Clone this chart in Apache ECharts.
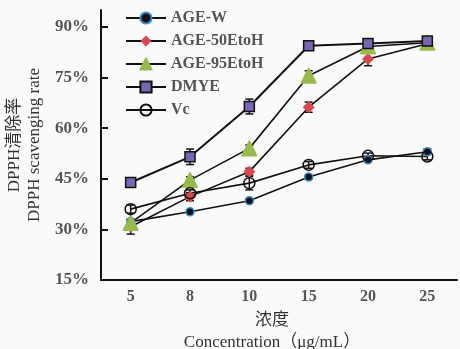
<!DOCTYPE html>
<html>
<head>
<meta charset="utf-8">
<script src="https://cdn.jsdelivr.net/npm/echarts@6/dist/echarts.min.js"></script>
<style>
  html, body { margin: 0; padding: 0; background: #fafafa; }
  #chart { width: 460px; height: 349px; }
</style>
</head>
<body>
<div id="chart"></div>
<script>
// Concentrations (μg/mL)
const categories = ['5', '8', '10', '15', '20', '25'];

// DPPH scavenging rate (%) for each extract
const ageW  = [32.3, 35.2, 38.5, 45.5, 50.6, 53.0];
const age50 = [30.8, 39.7, 47.1, 66.2, 80.5, 85.0];
const age95 = [31.9, 44.6, 54.0, 75.5, 84.2, 85.3];
const dmye  = [43.9, 51.5, 66.4, 84.4, 85.1, 85.8];
const vc    = [36.0, 40.7, 43.7, 49.1, 51.8, 51.6];

// Standard deviations (%)
const ageWErr  = [0.4, 0.5, 0.5, 0.5, 0.5, 0.8];
const age50Err = [2.2, 1.2, 1.0, 1.5, 2.0, 0.5];
const age95Err = [1.0, 1.0, 1.0, 1.5, 1.5, 0.5];
const dmyeErr  = [0.5, 2.3, 2.2, 0.8, 1.0, 0.5];
const vcErr    = [1.2, 1.0, 2.0, 1.0, 0.8, 1.0];

// Y axis tick values
const yTicks = [15, 30, 45, 60, 75, 90];

const serif = '"Liberation Serif", "Times New Roman", "Noto Sans CJK SC", serif';

function errorSeries(values, errs) {
  return {
    type: 'custom',
    silent: true,
    z: 1,
    data: values.map((v, i) => [i, v - errs[i], v + errs[i]]),
    renderItem: function (params, api) {
      const lo = api.coord([api.value(0), api.value(1)]);
      const hi = api.coord([api.value(0), api.value(2)]);
      const hw = 4;
      const style = { stroke: '#111', lineWidth: 1.5 };
      return {
        type: 'group',
        children: [
          { type: 'line', shape: { x1: lo[0], y1: lo[1], x2: hi[0], y2: hi[1] }, style: style },
          { type: 'line', shape: { x1: lo[0] - hw, y1: lo[1], x2: lo[0] + hw, y2: lo[1] }, style: style },
          { type: 'line', shape: { x1: hi[0] - hw, y1: hi[1], x2: hi[0] + hw, y2: hi[1] }, style: style }
        ]
      };
    }
  };
}

function lineSeries(name, values, symbol, size, itemStyle, width) {
  return {
    name: name,
    type: 'line',
    z: 3,
    data: values,
    symbol: symbol,
    symbolSize: size,
    showAllSymbol: true,
    lineStyle: { color: '#111', width: width || 1.6 },
    itemStyle: itemStyle,
    emphasis: { disabled: true }
  };
}

const chart = echarts.init(document.getElementById('chart'), null, { renderer: 'canvas' });

chart.setOption({
  backgroundColor: '#fafafa',
  animation: false,
  grid: { left: 101, right: 3, top: 10, bottom: 69, outerBoundsMode: 'none', containLabel: false },
  legend: {
    orient: 'vertical',
    left: 125,
    top: 10,
    padding: 0,
    itemWidth: 40,
    itemHeight: 14,
    itemGap: 7,
    textStyle: { fontFamily: serif, fontWeight: 'bold', fontSize: 16, color: '#555', lineHeight: 14 },
    data: ['AGE-W', 'AGE-50EtoH', 'AGE-95EtoH', 'DMYE', 'Vc']
  },
  xAxis: {
    type: 'category',
    data: categories,
    boundaryGap: true,
    axisLine: { lineStyle: { color: '#111', width: 2 } },
    axisTick: { inside: true, length: 6, lineStyle: { color: '#111', width: 2 } },
    axisLabel: { fontFamily: serif, fontWeight: 'bold', fontSize: 16, color: '#555', margin: 9 },
    name: '浓度\nConcentration（μg/mL）',
    nameLocation: 'middle',
    nameGap: 29,
    nameTextStyle: { fontFamily: serif, fontSize: 17, color: '#333', lineHeight: 22, padding: [0, 14, 0, 0] }
  },
  yAxis: {
    type: 'value',
    min: 15,
    max: 95,
    interval: 15,
    splitLine: { show: false },
    axisLine: { show: true, lineStyle: { color: '#111', width: 2 } },
    axisTick: { show: true, inside: true, length: 7, lineStyle: { color: '#111', width: 2 }, customValues: yTicks },
    axisLabel: {
      fontFamily: serif, fontWeight: 'bold', fontSize: 17, color: '#555', margin: 12,
      customValues: yTicks,
      formatter: v => v + '%'
    },
    name: 'DPPH清除率\nDPPH scavenging rate',
    nameLocation: 'middle',
    nameRotate: 90,
    nameGap: 54,
    nameTextStyle: { fontFamily: serif, fontSize: 17, color: '#333', lineHeight: 20 }
  },
  series: [
    errorSeries(ageW, ageWErr),
    errorSeries(age50, age50Err),
    errorSeries(age95, age95Err),
    errorSeries(dmye, dmyeErr),
    errorSeries(vc, vcErr),
    lineSeries('AGE-W', ageW, 'circle', 8, { color: '#111', borderColor: '#3a8ed8', borderWidth: 1.5 }),
    lineSeries('AGE-50EtoH', age50, 'diamond', 12, { color: '#d9484e', borderWidth: 0 }),
    lineSeries('AGE-95EtoH', age95, 'triangle', 14, { color: '#96ba4c', borderColor: '#96ba4c', borderWidth: 2, borderJoin: 'round' }),
    lineSeries('DMYE', dmye, 'rect', 10, { color: '#7866b4', borderColor: '#111', borderWidth: 1.5 }, 2),
    lineSeries('Vc', vc, 'circle', 11, { color: 'rgba(0,0,0,0)', borderColor: '#111', borderWidth: 1.5 })
  ]
});
</script>
</body>
</html>
